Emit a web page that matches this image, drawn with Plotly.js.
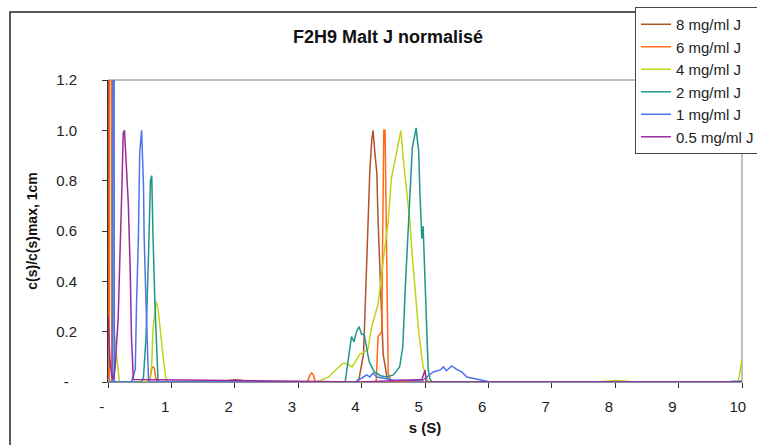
<!DOCTYPE html>
<html>
<head>
<meta charset="utf-8">
<script src="https://cdn.plot.ly/plotly-3.0.1.min.js"></script>
<style>
html,body{margin:0;padding:0;background:#fff;}
#chart{width:757px;height:445px;}
</style>
</head>
<body>
<div id="chart"></div>
<script>
// ---- Data ----
const seriesNames = ["8 mg/ml J", "6 mg/ml J", "4 mg/ml J", "2 mg/ml J", "1 mg/ml J", "0.5 mg/ml J"];

const s8 = [0, 0.015, 0.03, 1.8, 1.9, 2.0, 2.1, 2.2, 2.3, 3.95, 4.03, 4.05, 4.08, 4.11, 4.13, 4.16, 4.18, 4.21, 4.24, 4.26, 4.29, 4.32, 4.34, 4.4, 4.45, 10];
const c8 = [5.0, 0.02, 0, 0, 0.006, 0.009, 0.007, 0.004, 0, 0, 0.11, 0.25, 0.45, 0.64, 0.84, 0.96, 1.0, 0.91, 0.83, 0.64, 0.45, 0.25, 0.11, 0.02, 0, 0];

const s6 = [0, 0.02, 0.04, 0.06, 0.64, 0.67, 0.69, 0.71, 0.73, 0.75, 0.78, 3.14, 3.19, 3.21, 3.24, 3.27, 4.23, 4.26, 4.29, 4.32, 4.33, 4.35, 4.37, 4.4, 4.42, 4.47, 10];
const c6 = [0, 0, 6.0, 0, 0, 0.02, 0.055, 0.06, 0.055, 0.02, 0, 0, 0.028, 0.036, 0.028, 0, 0, 0.18, 0.19, 0.2, 0.51, 1.0, 1.0, 0.25, 0.035, 0, 0];

const s4 = [0, 0.075, 0.088, 0.1, 0.13, 0.18, 0.63, 0.66, 0.69, 0.71, 0.74, 0.76, 0.79, 0.82, 0.87, 0.91, 0.94, 3.3, 3.48, 3.6, 3.71, 3.79, 3.85, 3.9, 3.97, 4.05, 4.1, 4.16, 4.26, 4.34, 4.42, 4.47, 4.55, 4.62, 4.66, 4.72, 4.76, 4.8, 4.85, 4.9, 4.97, 5.05, 7.7, 7.85, 8.0, 8.15, 8.3, 9.94, 10];
const c4 = [0, 0, 4.0, 0.2, 0.12, 0, 0, 0.01, 0.07, 0.21, 0.28, 0.32, 0.29, 0.21, 0.1, 0.02, 0, 0, 0.02, 0.05, 0.075, 0.07, 0.06, 0.08, 0.11, 0.12, 0.13, 0.22, 0.31, 0.48, 0.64, 0.81, 0.91, 1.0, 0.88, 0.75, 0.64, 0.5, 0.33, 0.2, 0.06, 0, 0, 0.004, 0.006, 0.004, 0, 0, 0.09];

const s2 = [0, 0.53, 0.56, 0.6, 0.64, 0.66, 0.67, 0.69, 0.7, 0.71, 0.74, 0.77, 0.79, 3.74, 3.8, 3.84, 3.88, 3.92, 3.96, 4.0, 4.04, 4.08, 4.12, 4.2, 4.3, 4.4, 4.5, 4.6, 4.65, 4.69, 4.74, 4.77, 4.8, 4.83, 4.86, 4.88, 4.9, 4.92, 4.94, 4.95, 4.97, 5.0, 5.03, 5.05, 5.08, 5.12, 9.8, 9.85, 10];
const c2 = [0, 0, 0.02, 0.18, 0.51, 0.71, 0.8, 0.82, 0.74, 0.58, 0.31, 0.11, 0, 0, 0.1, 0.18, 0.16, 0.2, 0.22, 0.19, 0.19, 0.14, 0.08, 0.04, 0.025, 0.02, 0.028, 0.06, 0.14, 0.38, 0.64, 0.81, 0.93, 0.97, 1.01, 0.96, 0.92, 0.75, 0.6, 0.57, 0.62, 0.42, 0.15, 0.05, 0.01, 0, 0, 0.003, 0.003];

const s1 = [0, 0.07, 0.085, 0.1, 0.37, 0.43, 0.45, 0.48, 0.5, 0.53, 0.56, 0.57, 0.6, 0.62, 0.64, 3.9, 3.95, 4.0, 4.05, 4.08, 4.13, 4.18, 4.24, 4.34, 4.5, 4.7, 4.95, 5.03, 5.08, 5.13, 5.24, 5.29, 5.34, 5.42, 5.5, 5.58, 5.66, 5.82, 5.97, 6.03, 10];
const c1 = [0, 0, 8.0, 0, 0, 0.05, 0.31, 0.58, 0.91, 1.0, 0.78, 0.58, 0.31, 0.11, 0, 0, 0.01, 0.015, 0.025, 0.028, 0.02, 0.035, 0.02, 0.015, 0.008, 0.006, 0.004, 0.02, 0.03, 0.04, 0.048, 0.06, 0.045, 0.064, 0.05, 0.04, 0.02, 0.012, 0.005, 0, 0];

const s05 = [0, 0.03, 0.06, 0.08, 0.11, 0.16, 0.22, 0.24, 0.26, 0.29, 0.32, 0.35, 0.37, 0.4, 4.0, 4.5, 4.95, 5.0, 5.02, 10];
const c05 = [0.26, 0.09, 0.02, 0.01, 0.05, 0.25, 0.78, 0.99, 1.0, 0.86, 0.71, 0.45, 0.18, 0.01, 0, 0.005, 0.01, 0.047, 0, 0];

const yTickVals = [0, 0.2, 0.4, 0.6, 0.8, 1.0, 1.2];
const yTickText = ["-\u00a0\u00a0", "0.2", "0.4", "0.6", "0.8", "1.0", "1.2"];
const xTickVals = [0, 1, 2, 3, 4, 5, 6, 7, 8, 9, 10];
const xTickText = ["-\u00a0\u00a0\u00a0", "1\u00a0\u00a0\u00a0", "2\u00a0\u00a0\u00a0", "3\u00a0\u00a0\u00a0", "4\u00a0\u00a0\u00a0", "5\u00a0\u00a0\u00a0", "6\u00a0\u00a0\u00a0", "7\u00a0\u00a0\u00a0", "8\u00a0\u00a0\u00a0", "9\u00a0\u00a0\u00a0", "10\u00a0\u00a0"];

const colors = ["#b0522c", "#ff6a13", "#bed418", "#1f968a", "#4f72f0", "#9b2a9b"];
const xs = [s8, s6, s4, s2, s1, s05];
const ys = [c8, c6, c4, c2, c1, c05];

const FONT = "Liberation Sans, Arial, sans-serif";

const traces = seriesNames.map((name, i) => ({
  type: "scatter",
  mode: "lines",
  name: name,
  x: xs[i],
  y: ys[i],
  line: {color: colors[i], width: 1.5},
  hoverinfo: "x+y+name"
}));

const layout = {
  width: 757,
  height: 445,
  paper_bgcolor: "#ffffff",
  plot_bgcolor: "#ffffff",
  margin: {l: 108, r: 15, t: 80, b: 63, autoexpand: false},
  font: {family: FONT, color: "#222"},
  title: {
    text: "<b>F2H9 Malt J normalisé</b>",
    font: {family: FONT, size: 18, color: "#111"},
    x: 0.5125, xref: "container", xanchor: "center",
    y: 0.917, yref: "container", yanchor: "middle"
  },
  xaxis: {
    range: [0, 10],
    tickvals: xTickVals,
    ticktext: xTickText,
    ticks: "outside",
    ticklen: 5,
    tickcolor: "#333",
    tickwidth: 1,
    ticklabelstandoff: 6,
    tickfont: {family: FONT, size: 15, color: "#222"},
    showgrid: false,
    zeroline: false,
    showline: true,
    linecolor: "#8a8f99",
    linewidth: 1,
    title: {text: "<b>s (S)</b>", font: {family: FONT, size: 15, color: "#111"}, standoff: 8},
    automargin: false
  },
  yaxis: {
    range: [0, 1.2],
    tickvals: yTickVals,
    ticktext: yTickText,
    ticks: "outside",
    ticklen: 5,
    tickcolor: "#333",
    tickwidth: 1,
    ticklabelstandoff: 22,
    tickfont: {family: FONT, size: 15, color: "#222"},
    showgrid: false,
    zeroline: false,
    showline: true,
    linecolor: "#333",
    linewidth: 1,
    title: {text: "<b>c(s)/c(s)max, 1cm</b>", font: {family: FONT, size: 14, color: "#111"}, standoff: 15},
    automargin: false
  },
  showlegend: true,
  legend: {
    x: 0.8312, xanchor: "left",
    y: 1.2416, yanchor: "top",
    bgcolor: "#ffffff",
    bordercolor: "#444",
    borderwidth: 1,
    font: {family: FONT, size: 15, color: "#222"},
    traceorder: "normal"
  },
  shapes: [
    {type: "line", xref: "paper", yref: "paper", x0: 0, x1: 1, y0: 1, y1: 1, line: {color: "#aaaaaa", width: 1.5}, layer: "below"},
    {type: "line", xref: "paper", yref: "paper", x0: 1, x1: 1, y0: 0, y1: 1, line: {color: "#aaaaaa", width: 1.5}, layer: "below"},
    {type: "rect", xref: "paper", yref: "paper", x0: -0.1546, x1: 1.05, y0: -0.25, y1: 1.2252, line: {color: "#222", width: 1.5}, layer: "below"}
  ]
};

Plotly.newPlot("chart", traces, layout, {displayModeBar: false, staticPlot: true});
</script>
</body>
</html>
